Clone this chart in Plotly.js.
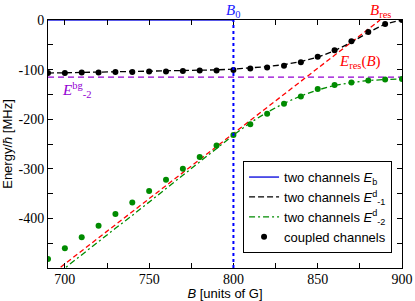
<!DOCTYPE html>
<html>
<head>
<meta charset="utf-8">
<script src="https://cdn.plot.ly/plotly-3.0.1.min.js"></script>
<style>html,body{margin:0;padding:0;background:#fff;}#chart{width:415px;height:301px;}</style>
</head>
<body>
<div id="chart"></div>
<script>
// Magnetic field grid of the coupled-channel points [G]
const B_points = [690,700,710,720,730,740,750,760,770,780,790,800,810,820,830,840,850,860,870,880,890,900];
// Coupled channels, upper branch (black dots) [MHz]
const cc_upper = [-107,-107,-106,-106,-105,-105,-104,-104,-103,-102,-102,-101,-98,-96,-92,-85,-74,-61,-43,-24,-8,0];
// Coupled channels, lower branch (green dots) [MHz]
const cc_lower = [-482,-460,-438,-415,-391,-368,-345,-322,-300,-276,-253,-232,-210,-189,-169,-154,-139,-131,-126,-122,-120,-119];
// Two-channel dressed levels
const B_line = [690,700,710,720,730,740,750,760,770,780,790,800,810,820,830,840,850,860,870,880,890,900];
const E_d1 = [-107,-106.5,-106,-105.5,-105,-104.5,-104,-103,-102.5,-101.5,-100.5,-99,-97,-94,-90,-84,-75,-62,-45,-25,-8,0];
const E_d2 = [-527,-500,-474,-447,-420,-394,-367,-340,-313,-286,-259,-232,-207,-186,-168,-153,-141,-132,-126,-122,-120,-119];
// Two-channel bound state E_b
const B_Eb = [690,800];
const E_b = [0,0];
// Bare resonance energy E_res(B)
const B_res_line = [690,887];
const E_res = [-518,0];
// Background level E_-2^bg
const B_bg = [690,900];
const E_bg = [-115,-115];
const B0 = 800;
const Bres = 887;
// Axis ticks
const xTickVals = [700,750,800,850,900];
const xTickText = ['700','750','800','850','900'];
const yTickVals = [0,-100,-200,-300,-400];
const yTickText = ['0','-100','-200','-300','-400'];

const serif = 'Liberation Serif, Times New Roman, serif';
const sans = 'Liberation Sans, Arial, sans-serif';

const traces = [
  {x:B_bg, y:E_bg, mode:'lines', line:{color:'#9400D3', width:1.3, dash:'6px,4px'}, showlegend:false, hoverinfo:'skip'},
  {x:B_res_line, y:E_res, mode:'lines', line:{color:'#ff0000', width:1.3, dash:'5px,3px'}, showlegend:false, hoverinfo:'skip'},
  {x:B_Eb, y:E_b, mode:'lines', name:'two channels <i>E</i><sub>b</sub>', line:{color:'#2020e0', width:1.5}},
  {x:B_line, y:E_d1, mode:'lines', name:'two channels <i>E</i><sup>d</sup><sub>-1</sub>', line:{color:'#000000', width:1.3, dash:'6px,3px'}},
  {x:B_line, y:E_d2, mode:'lines', name:'two channels <i>E</i><sup>d</sup><sub>-2</sub>', line:{color:'#008B00', width:1.3, dash:'6px,3px,2px,3px'}},
  {x:B_points, y:cc_upper, mode:'markers', name:'coupled channels', marker:{color:'#000000', size:6}},
  {x:B_points, y:cc_lower, mode:'markers', showlegend:false, marker:{color:'#008B00', size:6}}
];

const layout = {
  width:415, height:301,
  margin:{l:48, r:13, t:20, b:33},
  paper_bgcolor:'#fff', plot_bgcolor:'#fff',
  showlegend:true,
  legend:{x:0.551, y:0.431, xanchor:'left', yanchor:'top', bgcolor:'#fff', bordercolor:'#000', borderwidth:1,
          font:{family:sans, size:13, color:'#000'}, tracegroupgap:0, itemwidth:30},
  xaxis:{range:[690,900], showgrid:false, zeroline:false, showline:true, linecolor:'#000', linewidth:1, mirror:'ticks',
         ticks:'inside', ticklen:5, tickcolor:'#000', tickmode:'array', tickvals:xTickVals, ticktext:xTickText,
         ticklabelstandoff:-2,
         minor:{dtick:25, tick0:700, ticks:'inside', ticklen:5, tickcolor:'#000'},
         tickfont:{family:serif, size:14, color:'#000'},
         title:{text:'<i>B</i> [units of G]', font:{family:sans, size:13, color:'#000'}, standoff:1}},
  yaxis:{range:[-500,0], showgrid:false, zeroline:false, showline:true, linecolor:'#000', linewidth:1, mirror:'ticks',
         ticks:'inside', ticklen:5, tickcolor:'#000', tickmode:'array', tickvals:yTickVals, ticktext:yTickText,
         minor:{dtick:50, tick0:0, ticks:'inside', ticklen:5, tickcolor:'#000'},
         tickfont:{family:serif, size:14, color:'#000'},
         title:{text:'Energy/<i>ħ</i> [MHz]', font:{family:sans, size:13, color:'#000'}, standoff:4}},
  shapes:[
    {type:'line', xref:'x', yref:'paper', x0:B0, x1:B0, y0:0, y1:1, line:{color:'#0000ff', width:2, dash:'dot'}}
  ],
  annotations:[
    {x:B0, y:1, xref:'x', yref:'paper', yanchor:'bottom', showarrow:false, yshift:-2,
     text:'<i>B</i><sub>0</sub>', font:{family:serif, size:15, color:'#2020ff'}},
    {x:Bres, y:1, xref:'x', yref:'paper', yanchor:'bottom', showarrow:false, yshift:-2,
     text:'<i>B</i><sub>res</sub>', font:{family:serif, size:15, color:'#ff0000'}},
    {x:875, y:-84, xref:'x', yref:'y', showarrow:false,
     text:'<i>E</i><sub>res</sub>(<i>B</i>)', font:{family:serif, size:15, color:'#ff0000'}},
    {x:707, y:-141, xref:'x', yref:'y', showarrow:false,
     text:'<i>E</i><sup>bg</sup><sub>-2</sub>', font:{family:serif, size:15, color:'#9400D3'}}
  ]
};

Plotly.newPlot('chart', traces, layout, {staticPlot:true, displayModeBar:false});
</script>
</body>
</html>
